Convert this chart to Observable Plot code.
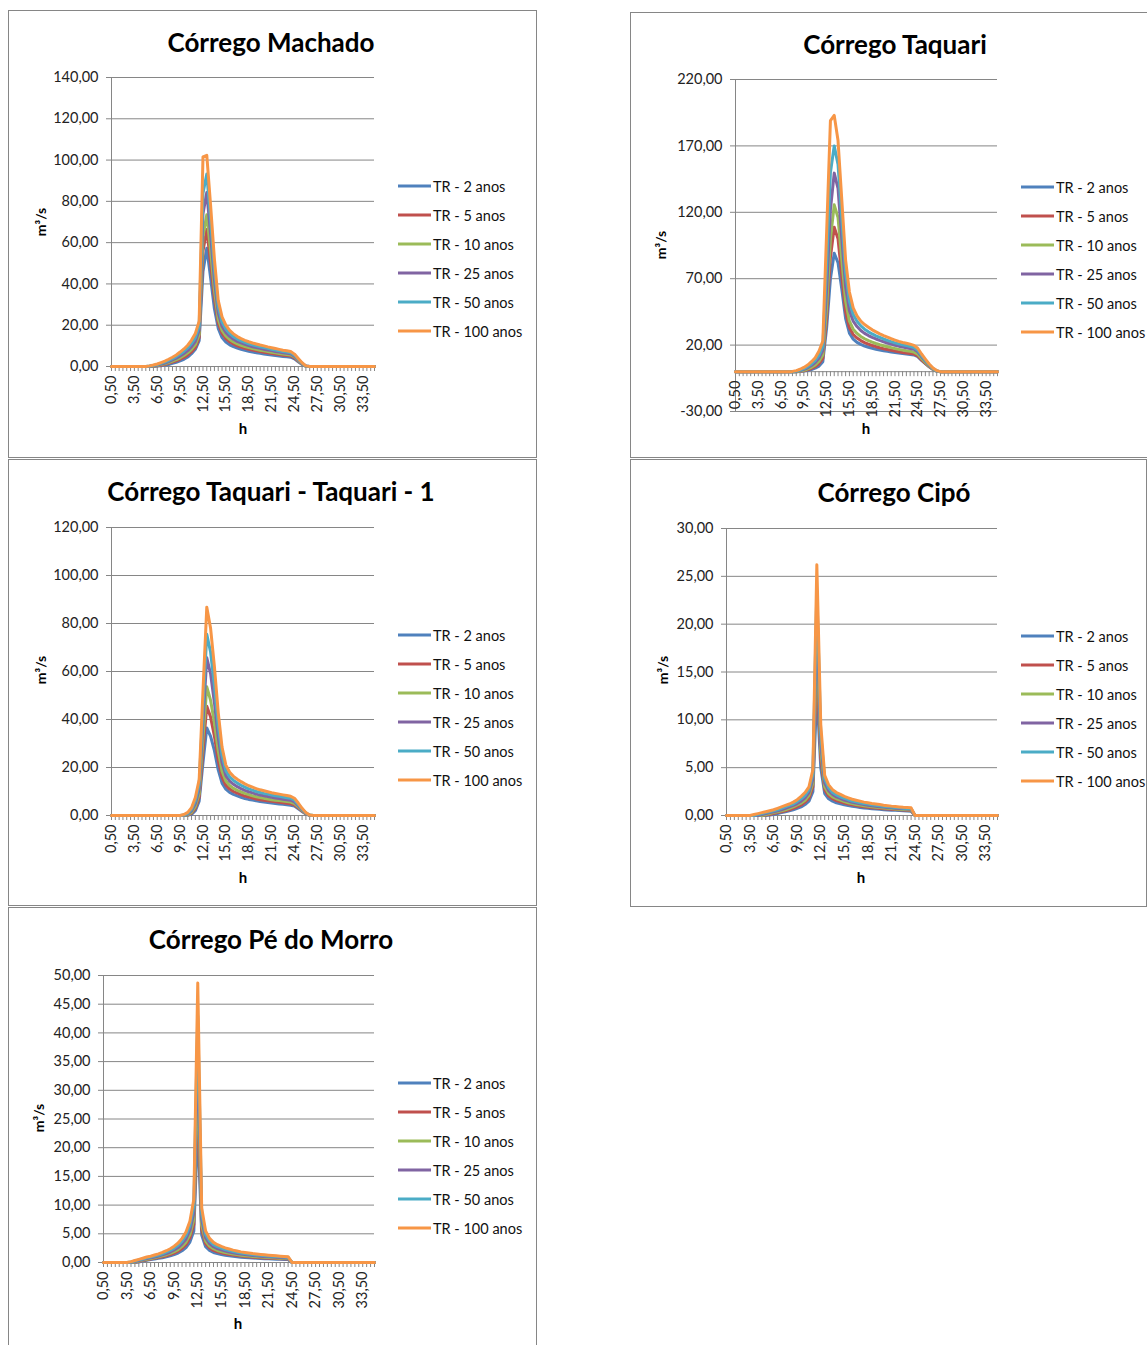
<!DOCTYPE html>
<html><head><meta charset="utf-8">
<script src="https://cdn.jsdelivr.net/npm/d3@7"></script>
<script src="https://cdn.jsdelivr.net/npm/@observablehq/plot@0.6"></script>
<style>
body{margin:0;background:#fff;font-family:Lato,"Open Sans",sans-serif;}
#page{position:relative;width:1147px;height:1345px;overflow:hidden;background:#fff;}
.panel{position:absolute;border:1px solid #868686;box-sizing:border-box;}
.title{position:absolute;font-weight:bold;font-size:26px;white-space:nowrap;transform:translate(-50%,-50%);color:#000;}
.ylab{position:absolute;font-weight:bold;font-size:14px;white-space:nowrap;transform:translate(-50%,-50%) rotate(-90deg);color:#000;}
.xlab{position:absolute;font-weight:bold;font-size:15px;transform:translate(-50%,-50%);color:#000;}
.leg{position:absolute;font-size:14.5px;white-space:nowrap;color:#111;transform:translateY(-50%);display:flex;align-items:center;}
.leg span.sw{display:inline-block;width:33px;height:3px;margin-right:2px;}
</style>
</head><body><div id="page"></div>
<script>
// ---------- data ----------
const hours = [0.5,1,1.5,2,2.5,3,3.5,4,4.5,5,
5.5,6,6.5,7,7.5,8,8.5,9,9.5,10,
10.5,11,11.5,12,12.5,13,13.5,14,14.5,15,
15.5,16,16.5,17,17.5,18,18.5,19,19.5,20,
20.5,21,21.5,22,22.5,23,23.5,24,24.5,25,
25.5,26,26.5,27,27.5,28,28.5,29,29.5,30,
30.5,31,31.5,32,32.5,33,33.5,34,34.5,35];
const xLabelHours = [0.5,3.5,6.5,9.5,12.5,15.5,18.5,21.5,24.5,27.5,30.5,33.5];
const seriesNames = ["TR - 2 anos","TR - 5 anos","TR - 10 anos","TR - 25 anos","TR - 50 anos","TR - 100 anos"];
const seriesColors = ["#4F81BD","#C0504D","#9BBB59","#8064A2","#4BACC6","#F79646"];
const titles = ["Córrego Machado","Córrego Taquari","Córrego Taquari - Taquari - 1","Córrego Cipó","Córrego Pé do Morro"];
const yLabel = "m³/s";
const xLabel = "h";

const yTicksMachado = [0,20,40,60,80,100,120,140];
const yTicksTaquari = [-30,20,70,120,170,220];
const yTicksTaquari1 = [0,20,40,60,80,100,120];
const yTicksCipo = [0,5,10,15,20,25,30];
const yTicksPe = [0,5,10,15,20,25,30,35,40,45,50];

// Córrego Machado
const machadoTR2 = [0,0,0,0,0,0,0,0,0,0,
0,0,0.2,0.4,0.7,1.0,1.5,2.0,2.7,3.5,
4.6,6.2,8.3,12.5,46,57.3,43,28,18.5,14,
11.8,10.5,9.6,8.9,8.3,7.8,7.4,7.0,6.7,6.4,
6.1,5.8,5.6,5.3,5.1,4.9,4.7,4.5,3.7,2.3,
1.0,0.1,0,0,0,0,0,0,0,0,
0,0,0,0,0,0,0,0,0,0];
const machadoTR5 = [0,0,0,0,0,0,0,0,0,0,
0,0.1,0.3,0.6,1.0,1.5,2.1,2.7,3.5,4.4,
5.6,7.1,9.2,14.0,56,66.4,50,33,21,16,
13.5,12.0,10.9,10.0,9.4,8.8,8.4,8.0,7.6,7.2,
6.9,6.6,6.3,6.0,5.8,5.5,5.3,5.1,4.2,2.6,
1.2,0.1,0,0,0,0,0,0,0,0,
0,0,0,0,0,0,0,0,0,0];
const machadoTR10 = [0,0,0,0,0,0,0,0,0,0,
0,0.2,0.5,0.9,1.3,1.9,2.6,3.3,4.2,5.3,
6.6,8.3,10.6,15.5,63,73.5,56,37,23,17.5,
14.8,13.1,11.9,11.0,10.3,9.7,9.2,8.7,8.3,7.9,
7.6,7.3,6.9,6.6,6.3,6.1,5.8,5.6,4.6,2.9,
1.3,0.1,0,0,0,0,0,0,0,0,
0,0,0,0,0,0,0,0,0,0];
const machadoTR25 = [0,0,0,0,0,0,0,0,0,0,
0.1,0.4,0.7,1.2,1.7,2.4,3.2,4.0,5.1,6.3,
7.7,9.6,12.2,17.5,74,84.3,64,42,26,19.5,
16.5,14.6,13.2,12.2,11.4,10.7,10.1,9.6,9.2,8.8,
8.4,8.0,7.7,7.3,7.0,6.7,6.4,6.2,5.0,3.2,
1.4,0.2,0,0,0,0,0,0,0,0,
0,0,0,0,0,0,0,0,0,0];
const machadoTR50 = [0,0,0,0,0,0,0,0,0,0,
0.2,0.5,0.9,1.5,2.1,2.9,3.8,4.8,6.0,7.4,
9.0,11.2,14.0,19.5,84,93.2,71,47,29,21.5,
18.2,16.0,14.4,13.3,12.4,11.7,11.0,10.5,10.0,9.6,
9.2,8.8,8.4,8.0,7.6,7.3,7.0,6.7,5.5,3.5,
1.6,0.2,0,0,0,0,0,0,0,0,
0,0,0,0,0,0,0,0,0,0];
const machadoTR100 = [0,0,0,0,0,0,0,0,0,0,
0.3,0.7,1.2,1.9,2.6,3.5,4.5,5.6,7.0,8.5,
10.3,12.8,16.0,22.0,101.5,102.3,78,52,32,24,
20,17.5,15.8,14.5,13.5,12.7,12.0,11.4,10.9,10.4,
10.0,9.5,9.1,8.7,8.3,7.9,7.6,7.3,6.0,3.9,
1.8,0.3,0,0,0,0,0,0,0,0,
0,0,0,0,0,0,0,0,0,0];

// Córrego Taquari
const taquariTR2 = [0,0,0,0,0,0,0,0,0,0,
0,0,0,0,0,0,0,0.1,0.4,0.9,
1.6,2.6,4.2,7.5,33,70,89.2,82,62,40,
29,24.5,22,20.5,19.3,18.4,17.6,16.9,16.3,15.8,
15.3,14.8,14.4,14.0,13.6,13.3,13.0,12.6,11.3,8.5,
6.0,3.6,1.6,0.4,0,0,0,0,0,0,
0,0,0,0,0,0,0,0,0,0];
const taquariTR5 = [0,0,0,0,0,0,0,0,0,0,
0,0,0,0,0,0,0,0.3,0.7,1.4,
2.4,3.8,6.0,10,40,86,108.8,100,72,45,
33,28,25.3,23.4,21.9,20.7,19.7,18.8,18.0,17.3,
16.7,16.1,15.5,15.0,14.5,14.1,13.7,13.2,11.8,8.9,
6.3,3.8,1.7,0.4,0,0,0,0,0,0,
0,0,0,0,0,0,0,0,0,0];
const taquariTR10 = [0,0,0,0,0,0,0,0,0,0,
0,0,0,0,0,0,0,0.5,1.1,2.0,
3.3,5.0,7.8,12.5,48,100,125.6,116,84,53,
38,32,28.8,26.5,24.8,23.4,22.2,21.2,20.3,19.5,
18.8,18.1,17.4,16.8,16.2,15.7,15.3,14.7,13.1,9.9,
7.0,4.2,1.9,0.4,0,0,0,0,0,0,
0,0,0,0,0,0,0,0,0,0];
const taquariTR25 = [0,0,0,0,0,0,0,0,0,0,
0,0,0,0,0,0,0.2,0.8,1.7,2.9,
4.6,6.8,10.2,16,62,122,149.5,138,100,64,
46,38,34,31,28.8,27.2,25.8,24.6,23.5,22.5,
21.6,20.7,19.9,19.2,18.6,18.0,17.5,16.8,14.9,11.3,
8.0,4.8,2.2,0.5,0,0,0,0,0,0,
0,0,0,0,0,0,0,0,0,0];
const taquariTR50 = [0,0,0,0,0,0,0,0,0,0,
0,0,0,0,0,0,0.4,1.2,2.3,3.8,
5.8,8.5,12.5,19,80,150,170,156,115,74,
53,43,38,34.5,32,30,28.4,27,25.8,24.6,
23.6,22.6,21.7,20.9,20.2,19.6,19.0,18.2,16.2,12.2,
8.6,5.2,2.4,0.6,0,0,0,0,0,0,
0,0,0,0,0,0,0,0,0,0];
const taquariTR100 = [0,0,0,0,0,0,0,0,0,0,
0,0,0,0,0,0.2,0.8,1.8,3.2,5.0,
7.5,10.5,15.5,23,105,189,193,174,129,84,
60,48,42,38,35.5,33.5,31.5,30,28.5,27.2,
26,24.8,23.8,22.8,22,21.4,20.7,19.8,17.6,13.3,
9.5,5.8,2.8,0.8,0,0,0,0,0,0,
0,0,0,0,0,0,0,0,0,0];

// Córrego Taquari - Taquari - 1
const taquari1TR2 = [0,0,0,0,0,0,0,0,0,0,
0,0,0,0,0,0,0,0,0,0,
0.1,0.5,2.0,6,22,36.5,33,27,19,13.5,
11.0,9.6,8.8,8.2,7.6,7.1,6.7,6.4,6.1,5.8,
5.6,5.4,5.2,5.0,4.8,4.7,4.5,4.3,3.9,2.8,
1.7,0.6,0.1,0,0,0,0,0,0,0,
0,0,0,0,0,0,0,0,0,0];
const taquari1TR5 = [0,0,0,0,0,0,0,0,0,0,
0,0,0,0,0,0,0,0,0,0,
0.2,0.9,2.9,7.5,27,45.5,41,33,23,16,
12.6,11.0,10.0,9.3,8.7,8.1,7.7,7.3,6.9,6.6,
6.3,6.1,5.9,5.7,5.5,5.3,5.1,4.9,4.4,3.2,
1.9,0.7,0.1,0,0,0,0,0,0,0,
0,0,0,0,0,0,0,0,0,0];
const taquari1TR10 = [0,0,0,0,0,0,0,0,0,0,
0,0,0,0,0,0,0,0,0,0,
0.3,1.3,3.8,9,32,53.6,48,38.5,27,18.5,
14.4,12.5,11.3,10.5,9.8,9.2,8.7,8.2,7.8,7.5,
7.2,6.9,6.6,6.4,6.2,6.0,5.8,5.6,5.0,3.6,
2.1,0.8,0.1,0,0,0,0,0,0,0,
0,0,0,0,0,0,0,0,0,0];
const taquari1TR25 = [0,0,0,0,0,0,0,0,0,0,
0,0,0,0,0,0,0,0,0,0.1,
0.6,1.9,5.0,11,39,65.7,59,47,32.5,22,
16.6,14.3,13.0,12.0,11.2,10.5,9.9,9.4,8.9,8.5,
8.2,7.9,7.6,7.3,7.1,6.8,6.6,6.4,5.7,4.1,
2.4,0.9,0.1,0,0,0,0,0,0,0,
0,0,0,0,0,0,0,0,0,0];
const taquari1TR50 = [0,0,0,0,0,0,0,0,0,0,
0,0,0,0,0,0,0,0,0,0.2,
0.9,2.5,6.2,13,45,75.5,68,54,37.5,25,
18.7,16.1,14.6,13.5,12.6,11.8,11.1,10.6,10.0,9.6,
9.2,8.9,8.5,8.2,8.0,7.7,7.4,7.2,6.4,4.6,
2.7,1.0,0.2,0,0,0,0,0,0,0,
0,0,0,0,0,0,0,0,0,0];
const taquari1TR100 = [0,0,0,0,0,0,0,0,0,0,
0,0,0,0,0,0,0,0,0,0.4,
1.3,3.2,7.5,15,52,86.8,78,62,43,28.5,
21,18,16.3,15.1,14.1,13.2,12.4,11.8,11.2,10.7,
10.3,9.9,9.5,9.2,8.9,8.6,8.3,8.0,7.2,5.2,
3.0,1.2,0.2,0,0,0,0,0,0,0,
0,0,0,0,0,0,0,0,0,0];

// Córrego Cipó
const cipoTR2 = [0,0,0,0,0,0,0,0,0,0,
0,0.05,0.1,0.2,0.3,0.4,0.5,0.6,0.75,0.9,
1.15,1.5,2.5,13,5.0,2.3,1.75,1.5,1.33,1.22,
1.12,1.03,0.96,0.9,0.84,0.79,0.75,0.71,0.67,0.64,
0.61,0.58,0.56,0.54,0.51,0.49,0.47,0.45,0,0,
0,0,0,0,0,0,0,0,0,0,
0,0,0,0,0,0,0,0,0,0];
const cipoTR5 = [0,0,0,0,0,0,0,0,0,0,
0.05,0.1,0.2,0.3,0.4,0.5,0.6,0.75,0.9,1.1,
1.4,1.8,3.0,16,6.0,2.7,2.05,1.75,1.55,1.42,
1.3,1.2,1.11,1.04,0.97,0.91,0.86,0.82,0.78,0.74,
0.71,0.68,0.65,0.62,0.59,0.57,0.54,0.52,0,0,
0,0,0,0,0,0,0,0,0,0,
0,0,0,0,0,0,0,0,0,0];
const cipoTR10 = [0,0,0,0,0,0,0,0,0,0,
0.1,0.2,0.3,0.4,0.5,0.6,0.75,0.9,1.1,1.3,
1.6,2.1,3.4,18.5,6.8,3.0,2.3,1.95,1.75,1.6,
1.45,1.34,1.24,1.16,1.09,1.02,0.97,0.92,0.87,0.83,
0.79,0.75,0.72,0.69,0.66,0.63,0.6,0.58,0,0,
0,0,0,0,0,0,0,0,0,0,
0,0,0,0,0,0,0,0,0,0];
const cipoTR25 = [0,0,0,0,0,0,0,0,0,0.1,
0.2,0.3,0.4,0.5,0.6,0.75,0.9,1.05,1.25,1.5,
1.85,2.4,3.8,21,7.6,3.4,2.6,2.2,1.95,1.8,
1.62,1.5,1.38,1.3,1.22,1.14,1.08,1.02,0.97,0.92,
0.88,0.84,0.8,0.76,0.73,0.7,0.67,0.65,0,0,
0,0,0,0,0,0,0,0,0,0,
0,0,0,0,0,0,0,0,0,0];
const cipoTR50 = [0,0,0,0,0,0,0,0,0.1,0.2,
0.3,0.4,0.5,0.6,0.75,0.9,1.05,1.2,1.45,1.75,
2.1,2.7,4.3,23.5,8.5,3.8,2.9,2.4,2.15,1.95,
1.8,1.65,1.52,1.43,1.34,1.26,1.19,1.13,1.08,1.02,
0.97,0.92,0.88,0.84,0.8,0.77,0.74,0.72,0,0,
0,0,0,0,0,0,0,0,0,0,
0,0,0,0,0,0,0,0,0,0];
const cipoTR100 = [0,0,0,0,0,0,0,0.1,0.2,0.3,
0.4,0.5,0.6,0.75,0.9,1.05,1.2,1.4,1.65,2.0,
2.4,3.0,4.8,26.2,9.5,4.2,3.2,2.7,2.4,2.2,
2.0,1.85,1.7,1.6,1.5,1.4,1.33,1.26,1.2,1.14,
1.08,1.03,0.98,0.94,0.9,0.86,0.83,0.8,0,0,
0,0,0,0,0,0,0,0,0,0,
0,0,0,0,0,0,0,0,0,0];

// Córrego Pé do Morro
const peTR2 = [0,0,0,0,0,0,0,0,0,0.1,
0.25,0.38,0.5,0.61,0.72,0.84,0.99,1.17,1.39,1.65,
2.05,2.6,3.55,5.5,24,4.8,2.75,2.1,1.75,1.55,
1.4,1.28,1.17,1.08,1.0,0.93,0.87,0.82,0.78,0.74,
0.7,0.67,0.64,0.61,0.58,0.56,0.53,0.51,0,0,
0,0,0,0,0,0,0,0,0,0,
0,0,0,0,0,0,0,0,0,0];
const peTR5 = [0,0,0,0,0,0,0,0,0.05,0.18,
0.34,0.48,0.6,0.73,0.86,1.0,1.18,1.39,1.65,1.96,
2.45,3.1,4.25,6.6,29,5.7,3.3,2.52,2.1,1.85,
1.68,1.53,1.41,1.29,1.2,1.11,1.05,0.99,0.93,0.88,
0.84,0.8,0.76,0.73,0.7,0.67,0.64,0.61,0,0,
0,0,0,0,0,0,0,0,0,0,
0,0,0,0,0,0,0,0,0,0];
const peTR10 = [0,0,0,0,0,0,0,0,0.1,0.25,
0.42,0.57,0.7,0.84,0.98,1.15,1.36,1.6,1.9,2.25,
2.8,3.55,4.85,7.5,33,6.5,3.75,2.87,2.4,2.1,
1.92,1.74,1.6,1.47,1.37,1.27,1.19,1.12,1.06,1.0,
0.95,0.91,0.86,0.82,0.79,0.76,0.72,0.7,0,0,
0,0,0,0,0,0,0,0,0,0,
0,0,0,0,0,0,0,0,0,0];
const peTR25 = [0,0,0,0,0,0,0,0.05,0.18,0.35,
0.52,0.68,0.82,0.97,1.13,1.32,1.56,1.83,2.18,2.6,
3.25,4.1,5.6,8.6,38,7.5,4.3,3.3,2.75,2.42,
2.2,2.0,1.84,1.69,1.57,1.46,1.37,1.29,1.22,1.16,
1.1,1.04,0.99,0.95,0.91,0.87,0.83,0.8,0,0,
0,0,0,0,0,0,0,0,0,0,
0,0,0,0,0,0,0,0,0,0];
const peTR50 = [0,0,0,0,0,0,0,0.1,0.25,0.45,
0.62,0.8,0.95,1.12,1.3,1.52,1.8,2.1,2.5,3.0,
3.7,4.7,6.4,9.8,43,8.5,4.9,3.75,3.1,2.75,
2.5,2.27,2.09,1.92,1.78,1.65,1.56,1.47,1.38,1.31,
1.25,1.18,1.13,1.08,1.03,0.99,0.94,0.91,0,0,
0,0,0,0,0,0,0,0,0,0,
0,0,0,0,0,0,0,0,0,0];
const peTR100 = [0,0,0,0,0,0,0,0.15,0.35,0.55,
0.75,0.95,1.1,1.3,1.5,1.75,2.05,2.4,2.85,3.4,
4.2,5.3,7.2,11,48.7,9.5,5.5,4.2,3.5,3.1,
2.8,2.55,2.35,2.15,2.0,1.85,1.75,1.65,1.55,1.47,
1.4,1.33,1.27,1.21,1.16,1.11,1.06,1.02,0,0,
0,0,0,0,0,0,0,0,0,0,
0,0,0,0,0,0,0,0,0,0];

// ---------- chart definitions ----------
const charts = [
  {title: titles[0], yDomain: [0,140], yTicks: yTicksMachado,
   series: [machadoTR2,machadoTR5,machadoTR10,machadoTR25,machadoTR50,machadoTR100]},
  {title: titles[1], yDomain: [-30,220], yTicks: yTicksTaquari,
   series: [taquariTR2,taquariTR5,taquariTR10,taquariTR25,taquariTR50,taquariTR100]},
  {title: titles[2], yDomain: [0,120], yTicks: yTicksTaquari1,
   series: [taquari1TR2,taquari1TR5,taquari1TR10,taquari1TR25,taquari1TR50,taquari1TR100]},
  {title: titles[3], yDomain: [0,30], yTicks: yTicksCipo,
   series: [cipoTR2,cipoTR5,cipoTR10,cipoTR25,cipoTR50,cipoTR100]},
  {title: titles[4], yDomain: [0,50], yTicks: yTicksPe,
   series: [peTR2,peTR5,peTR10,peTR25,peTR50,peTR100]}
];

// ---------- layout (page pixels) ----------
const layouts = [
  {box:[8,10,529,448],   plot:[111,374,77,366],   title:[271,42],  ylab:[40,222],  xlab:[243,428],  legend:[398,186]},
  {box:[630,12,530,446], plot:[735,997,79,411],   title:[895,44],  ylab:[660,245], xlab:[866,428],  legend:[1021,187]},
  {box:[8,459,529,447],  plot:[111,374,527,815],  title:[271,491], ylab:[40,670],  xlab:[243,877],  legend:[398,635]},
  {box:[630,459,517,448],plot:[726,997,528,815],  title:[894,492], ylab:[662,670], xlab:[861,877],  legend:[1021,636]},
  {box:[8,907,529,450],  plot:[103,374,975,1262], title:[271,939], ylab:[38,1118], xlab:[238,1323], legend:[398,1083]}
];
const legendStep = 29;
const grey = "#868686";
const fmt = v => v.toFixed(2).replace(".", ",");
const page = document.getElementById("page");

function addDiv(cls, left, top, text) {
  const d = document.createElement("div");
  d.className = cls;
  d.style.left = left + "px";
  d.style.top = top + "px";
  if (text != null) d.textContent = text;
  page.appendChild(d);
  return d;
}

charts.forEach((c, k) => {
  const L = layouts[k];
  const [bx, by, bw, bh] = L.box;
  const [pl, pr, pt, pb] = L.plot;
  const rows = [];
  c.series.forEach((vals, s) => vals.forEach((v, i) => rows.push({t: hours[i], v, s})));
  const marks = [
    Plot.gridY({ticks: c.yTicks, stroke: grey, strokeOpacity: 1, strokeWidth: 1}),
    Plot.axisY({ticks: c.yTicks, tickSize: 5, tickPadding: 8, tickFormat: fmt, stroke: grey, fill: "#222", fontSize: 14.5, label: null}),
    Plot.ruleX([hours[0]], {stroke: grey}),
    Plot.ruleY([0], {stroke: grey}),
    Plot.ruleX(hours, {x: d => d, y1: 0, y2: 0, insetBottom: -5, stroke: grey}),
    Plot.text(xLabelHours, {x: d => d, y: 0, text: d => fmt(d), rotate: -90, textAnchor: "end", dy: 9, fontSize: 14.5, fill: "#222"}),
    ...seriesColors.map((col, s) => Plot.line(rows.filter(r => r.s === s), {
      x: "t", y: "v", stroke: col, strokeWidth: 3, strokeLinejoin: "round", strokeLinecap: "round"}))
  ];
  const svg = Plot.plot({
    width: bw, height: bh,
    marginLeft: pl - bx, marginRight: bx + bw - pr, marginTop: pt - by, marginBottom: by + bh - pb,
    x: {domain: [0.5, 35], axis: null},
    y: {domain: c.yDomain, label: null},
    style: {background: "transparent", fontFamily: "Lato, sans-serif", overflow: "visible"},
    marks
  });
  svg.style.position = "absolute";
  svg.style.left = bx + "px";
  svg.style.top = by + "px";
  svg.style.maxWidth = "none";
  page.appendChild(svg);

  const p = addDiv("panel", bx, by);
  p.style.width = bw + "px"; p.style.height = bh + "px";
  addDiv("title", L.title[0], L.title[1], c.title);
  addDiv("ylab", L.ylab[0], L.ylab[1], yLabel);
  addDiv("xlab", L.xlab[0], L.xlab[1], xLabel);
  seriesNames.forEach((name, s) => {
    const d = addDiv("leg", L.legend[0], L.legend[1] + s * legendStep);
    const sw = document.createElement("span");
    sw.className = "sw"; sw.style.background = seriesColors[s];
    d.appendChild(sw);
    d.appendChild(document.createTextNode(name));
  });
});
</script>
</body></html>
